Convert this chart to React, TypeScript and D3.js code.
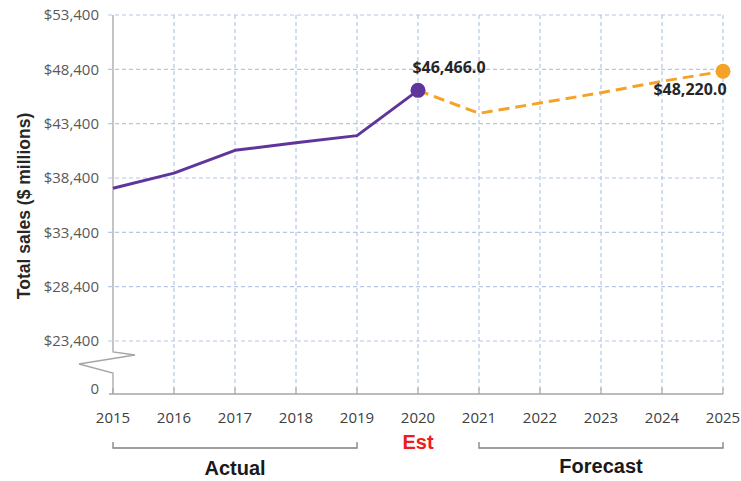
import React from "react";
import * as d3 from "d3";

const years = [2015, 2016, 2017, 2018, 2019, 2020, 2021, 2022, 2023, 2024, 2025];
const actualYears = [2015, 2016, 2017, 2018, 2019, 2020];
const actualValues = [37450, 38850, 40950, 41650, 42300, 46466];
const forecastYears = [2020, 2021, 2022, 2023, 2024, 2025];
const forecastValues = [46466, 44350, 45300, 46250, 47300, 48220];
const yTicks = [23400, 28400, 33400, 38400, 43400, 48400, 53400];
const yTickLabels = ["$23,400", "$28,400", "$33,400", "$38,400", "$43,400", "$48,400", "$53,400"];
const annotations = [
  { year: 2020, value: 46466, text: "$46,466.0" },
  { year: 2025, value: 48220, text: "$48,220.0" },
];

const W = 741;
const H = 481;
const left = 113;
const right = 723;
const top = 15;
const breakBottom = 341;
const baseY = 394;

export default function App() {
  const x = d3.scaleLinear().domain([2015, 2025]).range([left, right]);
  const y = d3.scaleLinear().domain([23400, 53400]).range([breakBottom, top]);
  const line = d3
    .line<[number, number]>()
    .x((d) => x(d[0]))
    .y((d) => y(d[1]));
  const actualPts = actualYears.map((yr, i) => [yr, actualValues[i]] as [number, number]);
  const forecastPts = forecastYears.map((yr, i) => [yr, forecastValues[i]] as [number, number]);
  const grid = "#b4c7e7";
  const axisCol = "#a6a6a6";
  const purple = "#60359b";
  const orange = "#f5a228";
  const tickFont = "'Open Sans', 'DejaVu Sans', sans-serif";
  const arial = "'Liberation Sans', Arial, sans-serif";

  return (
    <svg
      width={W}
      height={H}
      style={{ position: "absolute", left: 0, top: 0, background: "#fff" }}
    >
      <rect x={0} y={0} width={W} height={H} fill="#fff" />
      {yTicks.map((t) => (
        <line
          key={"h" + t}
          x1={left - 5}
          x2={right}
          y1={y(t)}
          y2={y(t)}
          stroke={grid}
          strokeWidth={1.2}
          strokeDasharray="4,3"
        />
      ))}
      {years.slice(1).map((yr) => (
        <line
          key={"v" + yr}
          x1={x(yr)}
          x2={x(yr)}
          y1={top}
          y2={baseY}
          stroke={grid}
          strokeWidth={1.2}
          strokeDasharray="4,3"
        />
      ))}
      <polyline
        points={`${left},${top} ${left},352 ${left + 22},355 ${left - 34},364 ${left},373 ${left},${baseY}`}
        fill="none"
        stroke={axisCol}
        strokeWidth={1.3}
      />
      <line x1={left - 4} x2={right} y1={baseY} y2={baseY} stroke={axisCol} strokeWidth={1.3} />
      {years.map((yr) => (
        <line key={"t" + yr} x1={x(yr)} x2={x(yr)} y1={baseY - 6} y2={baseY} stroke={axisCol} strokeWidth={1.2} />
      ))}
      {yTicks.map((t, i) => (
        <text
          key={"yl" + t}
          x={99}
          y={y(t)}
          dy="0.35em"
          textAnchor="end"
          fontFamily={tickFont}
          fontSize={15}
          fill="#595959"
        >
          {yTickLabels[i]}
        </text>
      ))}
      <text x={99} y={389} dy="0.35em" textAnchor="end" fontFamily={tickFont} fontSize={15} fill="#595959">
        0
      </text>
      {years.map((yr) => (
        <text
          key={"xl" + yr}
          x={x(yr)}
          y={418}
          dy="0.35em"
          textAnchor="middle"
          fontFamily={tickFont}
          fontSize={15}
          fill="#404040"
        >
          {yr}
        </text>
      ))}
      <text
        transform={`translate(30,206) rotate(-90)`}
        textAnchor="middle"
        fontFamily={arial}
        fontWeight="bold"
        fontSize={17.5}
        fill="#262626"
      >
        Total sales ($ millions)
      </text>
      <path d={line(actualPts) || ""} fill="none" stroke={purple} strokeWidth={3} strokeLinejoin="round" />
      <path
        d={line(forecastPts) || ""}
        fill="none"
        stroke={orange}
        strokeWidth={3}
        strokeDasharray="11,6"
      />
      <circle cx={x(2020)} cy={y(46466)} r={7.5} fill={purple} />
      <circle cx={x(2025)} cy={y(48220)} r={7.5} fill={orange} />
      <text
        x={x(annotations[0].year) + 31}
        y={y(annotations[0].value) - 17}
        textAnchor="middle"
        fontFamily={tickFont}
        fontWeight="bold"
        fontSize={16}
        fill="#262626"
      >
        {annotations[0].text}
      </text>
      <text
        x={x(annotations[1].year) - 33}
        y={y(annotations[1].value) + 24}
        textAnchor="middle"
        fontFamily={tickFont}
        fontWeight="bold"
        fontSize={16}
        fill="#262626"
      >
        {annotations[1].text}
      </text>
      <path d={`M${x(2015)},442 V448 H${x(2019)} V442`} fill="none" stroke="#7f7f7f" strokeWidth={1.3} />
      <path d={`M${x(2021)},442 V448 H${x(2025)} V442`} fill="none" stroke="#7f7f7f" strokeWidth={1.3} />
      <text
        x={x(2020)}
        y={442}
        dy="0.35em"
        textAnchor="middle"
        fontFamily={arial}
        fontWeight="bold"
        fontSize={20}
        fill="#ee1c1c"
      >
        Est
      </text>
      <text
        x={(x(2015) + x(2019)) / 2}
        y={468}
        dy="0.35em"
        textAnchor="middle"
        fontFamily={arial}
        fontWeight="bold"
        fontSize={20}
        fill="#1a1a1a"
      >
        Actual
      </text>
      <text
        x={(x(2021) + x(2025)) / 2}
        y={466}
        dy="0.35em"
        textAnchor="middle"
        fontFamily={arial}
        fontWeight="bold"
        fontSize={20}
        fill="#1a1a1a"
      >
        Forecast
      </text>
    </svg>
  );
}
